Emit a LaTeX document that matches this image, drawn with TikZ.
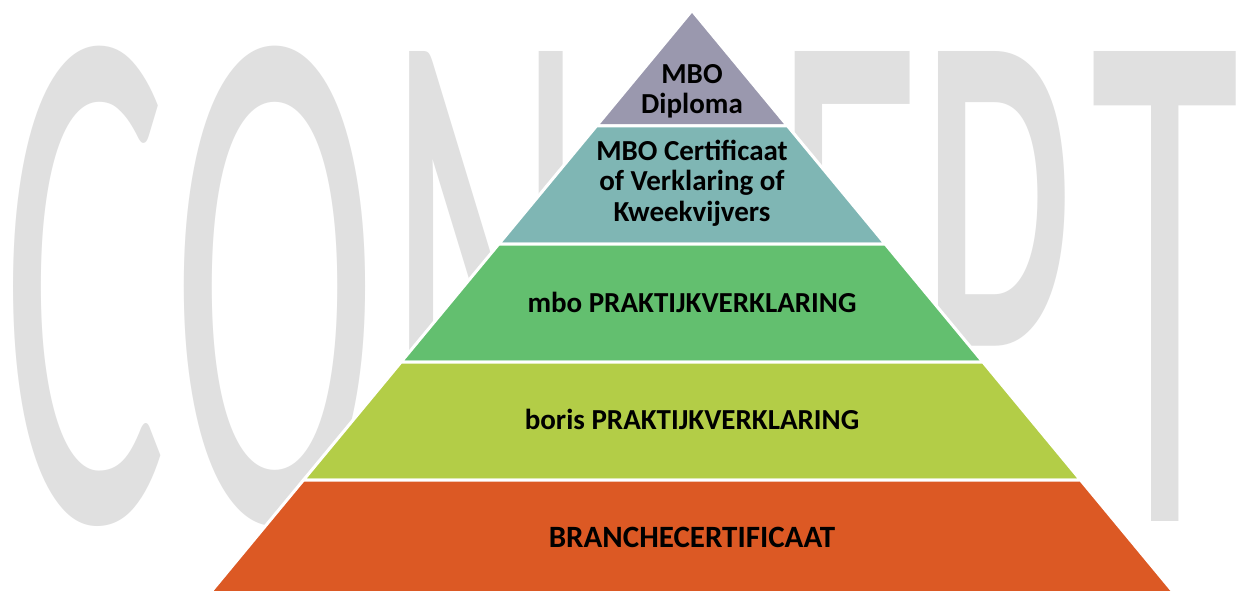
\documentclass[tikz,border=0pt]{standalone}
\usepackage{fontspec}
\setmainfont{Carlito}
\newfontfamily\wmfont{Carlito}
\definecolor{cTop}{RGB}{154,152,174}
\definecolor{cTeal}{RGB}{127,182,180}
\definecolor{cGreen}{RGB}{99,191,111}
\definecolor{cLime}{RGB}{179,205,71}
\definecolor{cOrange}{RGB}{220,89,36}
\definecolor{wmgray}{RGB}{224,224,224}
\newcommand{\wmL}[2]{\rlap{\hspace*{#1pt}\makebox[0pt][c]{#2}}}
\tikzset{
  layer/.style={draw=white, line width=3pt, line join=miter},
  lbl/.style={inner sep=0pt, text=black, font=\fontsize{29}{30.5}\selectfont\bfseries, align=center},
}
\begin{document}
\begin{tikzpicture}[x=1pt,y=-1pt]
\useasboundingbox (0,0) rectangle (1242,591);
\fill[white] (0,0) rectangle (1242,591);
% watermark
\node[anchor=base west, inner sep=0pt, text=wmgray] (wm) at (0,521)
  {\scalebox{0.92}[2.20]{\wmfont\fontsize{333}{333}\selectfont
   \wmL{91.3}{C}\wmL{298.9}{O}\wmL{528.3}{N}\wmL{739}{C}\wmL{921.7}{E}\wmL{1081.5}{P}\wmL{1266.3}{T}}};
\fill[white] (565,0) rectangle (789,591);
% pyramid coordinates
\coordinate (ap) at (692,10.5);
\coordinate (l1) at (596.4,126); \coordinate (r1) at (787.6,126);
\coordinate (l2) at (498.8,244); \coordinate (r2) at (885.2,244);
\coordinate (l3) at (401.1,362); \coordinate (r3) at (982.9,362);
\coordinate (l4) at (303.5,480); \coordinate (r4) at (1080.5,480);
\coordinate (l5) at (205.8,598); \coordinate (r5) at (1178.2,598);
\filldraw[layer, fill=cTop] (ap) -- (r1) -- (l1) -- cycle;
\filldraw[layer, fill=cTeal] (l1) -- (r1) -- (r2) -- (l2) -- cycle;
\filldraw[layer, fill=cGreen] (l2) -- (r2) -- (r3) -- (l3) -- cycle;
\filldraw[layer, fill=cLime] (l3) -- (r3) -- (r4) -- (l4) -- cycle;
\filldraw[layer, fill=cOrange] (l4) -- (r4) -- (r5) -- (l5) -- cycle;
% labels
\node[lbl] (t1) at (692,91.5) {MBO\\Diploma};
\node[lbl] (t2) at (692,182.8) {MBO Certificaat\\of Verklaring of\\Kweekvijvers};
\node[lbl, anchor=base] (t3) at (692,312.7) {mbo PRAKTIJKVERKLARING};
\node[lbl, anchor=base] (t4) at (692,429.3) {boris PRAKTIJKVERKLARING};
\node[lbl, anchor=base, font=\fontsize{31}{32}\selectfont\bfseries] (t5) at (692,547.7) {BRANCHECERTIFICAAT};
\end{tikzpicture}
\end{document}
